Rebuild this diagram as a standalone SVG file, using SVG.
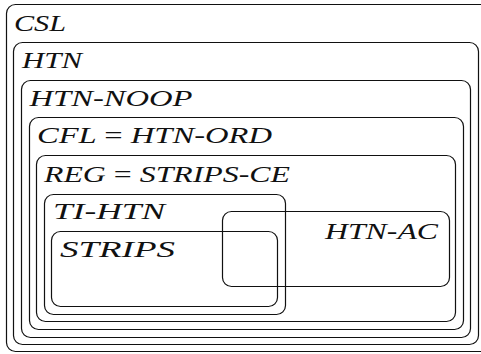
<svg xmlns="http://www.w3.org/2000/svg" width="481" height="354" viewBox="0 0 481 354">
<style>
.box{fill:none;stroke:#111;stroke-width:1.2}
.lbl{font-family:"Liberation Serif","DejaVu Serif",serif;font-style:italic;font-size:23px;fill:#111}
.eq{font-style:normal}
</style>
<rect x="0" y="0" width="481" height="354" fill="#fff"/>
<g id="CSL">
<rect class="box" x="6.5" y="4.5" width="484" height="347" rx="9"/>
<text class="lbl" x="14" y="31" textLength="52" lengthAdjust="spacingAndGlyphs">CSL</text>
</g>
<g id="HTN">
<rect class="box" x="13.5" y="42.5" width="465" height="302" rx="9"/>
<text class="lbl" x="22" y="68" textLength="60" lengthAdjust="spacingAndGlyphs">HTN</text>
</g>
<g id="HTN-NOOP">
<rect class="box" x="21.5" y="80.5" width="449" height="257" rx="9"/>
<text class="lbl" x="29.5" y="105.5" textLength="163" lengthAdjust="spacingAndGlyphs">HTN-NOOP</text>
</g>
<g id="CFL">
<rect class="box" x="29.5" y="117.5" width="434" height="212" rx="9"/>
<text class="lbl" x="37" y="143" textLength="235" lengthAdjust="spacingAndGlyphs">CFL <tspan class="eq">=</tspan> HTN-ORD</text>
</g>
<g id="REG">
<rect class="box" x="36.5" y="155.5" width="419" height="166" rx="9"/>
<text class="lbl" x="44" y="181.5" textLength="246" lengthAdjust="spacingAndGlyphs">REG <tspan class="eq">=</tspan> STRIPS-CE</text>
</g>
<g id="TI-HTN">
<rect class="box" x="44.5" y="194.5" width="241" height="120" rx="9"/>
<text class="lbl" x="53" y="219" textLength="112" lengthAdjust="spacingAndGlyphs">TI-HTN</text>
</g>
<g id="STRIPS">
<rect class="box" x="51.5" y="231.5" width="226" height="75" rx="9"/>
<text class="lbl" x="60" y="257" textLength="115" lengthAdjust="spacingAndGlyphs">STRIPS</text>
</g>
<g id="HTN-AC">
<rect class="box" x="222.5" y="211.5" width="227" height="75" rx="9"/>
<text class="lbl" x="325" y="239" textLength="113" lengthAdjust="spacingAndGlyphs">HTN-AC</text>
</g>
</svg>
